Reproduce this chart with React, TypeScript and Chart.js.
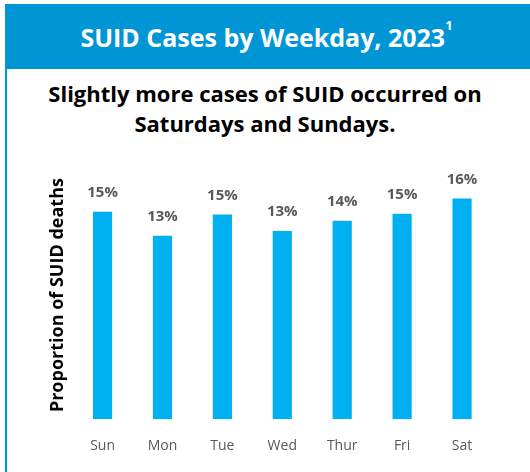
import React, { useEffect, useRef } from "react";
import { Chart, registerables } from "chart.js";

Chart.register(...registerables);

const days = ["Sun", "Mon", "Tue", "Wed", "Thur", "Fri", "Sat"];
const shares = [15.05, 13.3, 14.85, 13.65, 14.4, 14.9, 16.0];
const shareLabels = ["15%", "13%", "15%", "13%", "14%", "15%", "16%"];
const yAxisTitle = "Proportion of SUID deaths";
const headerTitle = "SUID Cases by Weekday, 2023";
const headerNote = "1";
const subtitleLines = ["Slightly more cases of SUID occurred on", "Saturdays and Sundays."];

const FONT = "'Open Sans', Lato, sans-serif";
const BLUE = "#0096D6";
const BAR = "#00B0F0";
const GREY = "#595959";

const valueLabelPlugin = {
  id: "valueLabels",
  afterDatasetsDraw(chart: any) {
    const ctx = chart.ctx;
    const meta = chart.getDatasetMeta(0);
    ctx.save();
    ctx.font = `bold 15px ${FONT}`;
    ctx.fillStyle = GREY;
    ctx.textAlign = "center";
    ctx.textBaseline = "middle";
    meta.data.forEach((bar: any, i: number) => {
      ctx.fillText(shareLabels[i], bar.x, bar.y - 19);
    });
    ctx.restore();
  },
};

export default function App() {
  const canvasRef = useRef<HTMLCanvasElement | null>(null);

  useEffect(() => {
    if (!canvasRef.current) return;
    const chart = new Chart(canvasRef.current, {
      type: "bar",
      data: {
        labels: days,
        datasets: [
          {
            data: shares,
            backgroundColor: BAR,
            categoryPercentage: 1,
            barPercentage: 0.32,
          },
        ],
      },
      options: {
        animation: false,
        responsive: false,
        maintainAspectRatio: false,
        layout: { padding: { left: 43, right: 38, top: 21, bottom: 0 } },
        plugins: {
          legend: { display: false },
          tooltip: { enabled: false },
        },
        scales: {
          x: {
            grid: { display: false, drawTicks: false },
            border: { display: false },
            ticks: { color: GREY, font: { family: FONT, size: 14 }, padding: 18 },
          },
          y: {
            min: 0,
            max: 18,
            grid: { display: false, drawTicks: false },
            border: { display: false },
            ticks: { display: false },
            title: {
              display: true,
              text: yAxisTitle,
              color: "#000",
              font: { family: FONT, size: 18, weight: "bold" },
              padding: { top: 4, bottom: 4 },
            },
          },
        },
      },
      plugins: [valueLabelPlugin],
    });
    return () => chart.destroy();
  }, []);

  return (
    <div
      style={{
        position: "fixed",
        left: 0,
        top: 0,
        width: 530,
        height: 472,
        background: "#fff",
        overflow: "hidden",
        fontFamily: FONT,
      }}
    >
      <div
        style={{
          position: "absolute",
          left: 5,
          top: 4,
          width: 525,
          height: 65,
          background: BLUE,
          color: "#fff",
          fontWeight: "bold",
          fontSize: 25,
          display: "flex",
          alignItems: "center",
          justifyContent: "center",
          boxSizing: "border-box",
        }}
      >
        <span style={{ position: "relative", left: -1 }}>
          {headerTitle}
          <sup style={{ fontSize: 13, verticalAlign: "top", position: "relative", top: -4 }}>{headerNote}</sup>
        </span>
      </div>
      <div style={{ position: "absolute", left: 5, top: 69, width: 2, height: 403, background: BLUE }} />
      <div
        style={{
          position: "absolute",
          left: 0,
          top: 78,
          width: 530,
          textAlign: "center",
          fontWeight: "bold",
          fontSize: 22,
          lineHeight: "30px",
          color: "#000",
        }}
      >
        {subtitleLines.map((l, i) => (
          <div key={i}>{l}</div>
        ))}
      </div>
      <canvas
        ref={canvasRef}
        width={530}
        height={322}
        style={{ position: "absolute", left: 0, top: 150, width: 530, height: 322 }}
      />
    </div>
  );
}
